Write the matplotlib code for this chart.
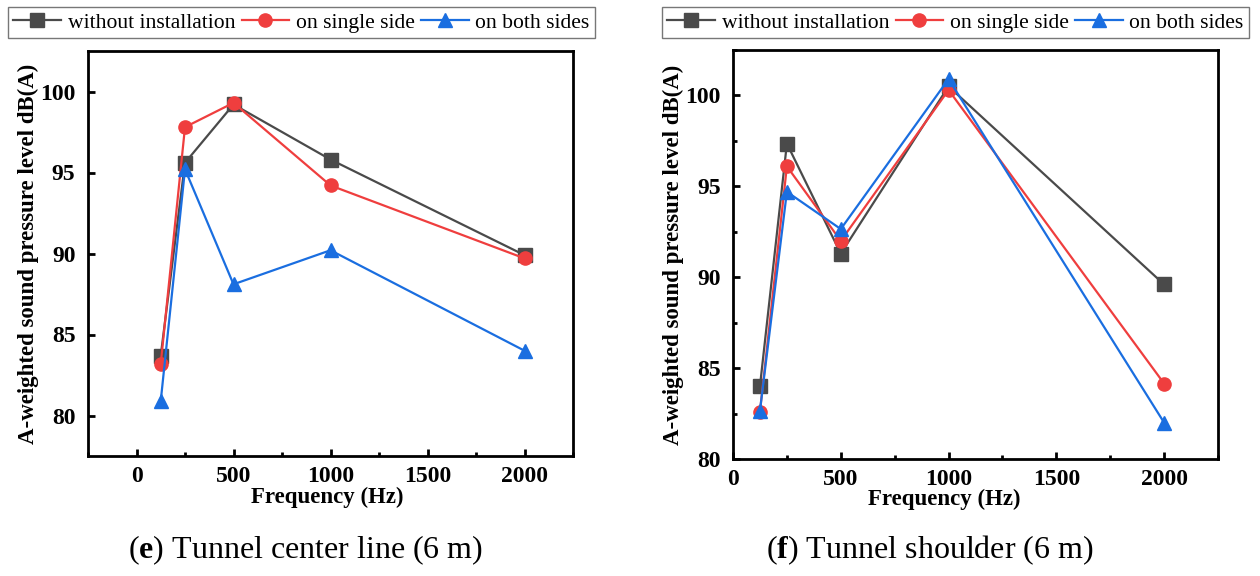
import numpy as np
import matplotlib
matplotlib.use('Agg')
import matplotlib.pyplot as plt
from matplotlib.ticker import MultipleLocator

## Frequencies (Hz)
freq = [125, 250, 500, 1000, 2000]

## (e) Tunnel center line (6 m)
e_without = [83.7, 95.6, 99.2, 95.8, 89.9]
e_single = [83.2, 97.8, 99.3, 94.2, 89.7]
e_both = [80.9, 95.2, 88.1, 90.2, 84.0]

## (f) Tunnel shoulder (6 m)
f_without = [84.0, 97.35, 91.3, 100.5, 89.6]
f_single = [82.6, 96.1, 92.0, 100.3, 84.15]
f_both = [82.65, 94.7, 92.65, 100.9, 82.0]

labels = ['without installation', 'on single side', 'on both sides']
colors = ['#4a4a4a', '#ef3e3e', '#1a6ee0']
markers = ['s', 'o', '^']

plt.rcParams['font.family'] = 'Liberation Serif'
plt.rcParams['mathtext.fontset'] = 'custom'
plt.rcParams['mathtext.rm'] = 'Liberation Serif'
plt.rcParams['mathtext.bf'] = 'Liberation Serif:bold'

W, H = 1260, 576
fig = plt.figure(figsize=(12.6, 5.76), dpi=100)

def px_axes(x0, y0, x1, y1):
    return fig.add_axes([x0/W, 1-y1/H, (x1-x0)/W, (y1-y0)/H])

def style(ax, ylim, xlim, yminor):
    ax.set_xlim(*xlim)
    ax.set_ylim(*ylim)
    for s in ax.spines.values():
        s.set_linewidth(2.0)
    ax.xaxis.set_major_locator(MultipleLocator(500))
    ax.xaxis.set_minor_locator(MultipleLocator(250))
    ax.yaxis.set_major_locator(MultipleLocator(5))
    if yminor:
        ax.yaxis.set_minor_locator(MultipleLocator(2.5))
    ax.tick_params(which='major', direction='in', length=5, width=2,
                   labelsize=17, top=False, right=False, pad=7)
    ax.tick_params(axis='y', which='major', pad=9)
    ax.tick_params(which='minor', direction='in', length=3, width=2,
                   top=False, right=False)
    for lab in ax.get_xticklabels() + ax.get_yticklabels():
        lab.set_fontweight('bold')
    ax.set_ylabel('A-weighted sound pressure level dB(A)', fontsize=16.5,
                  fontweight='bold')

def draw(ax, series):
    handles = []
    for ys, c, m, lab in zip(series, colors, markers, labels):
        h, = ax.plot(freq, ys, color=c, marker=m, markersize=9.5, lw=1.6,
                     label=lab)
        handles.append(h)
    return handles

## left panel
ax1 = px_axes(88, 51, 573, 456)
hs = draw(ax1, [e_without, e_single, e_both])
style(ax1, (77.5, 102.5), (-250, 2250), False)
ax1.yaxis.set_label_coords(-0.1, 0.5)
fig.text(327/W, 1-497/H, 'Frequency (Hz)', ha='center', va='center',
         fontsize=16.5, fontweight='bold')

## right panel
ax2 = px_axes(733, 50, 1218, 459)
draw(ax2, [f_without, f_single, f_both])
style(ax2, (80, 102.5), (0, 2250), True)
ax2.yaxis.set_label_coords(-0.1, 0.5)
fig.text(944/W, 1-499/H, 'Frequency (Hz)', ha='center', va='center',
         fontsize=16.5, fontweight='bold')

## legends on top of each panel
for x0 in [8, 662]:
    leg = fig.legend(hs, labels, loc='upper left', ncol=3,
                     bbox_to_anchor=(x0/W, 1-7/H), fontsize=15.6,
                     frameon=True, fancybox=False, borderpad=0.25,
                     handlelength=2.2, handletextpad=0.3, columnspacing=0.3,
                     borderaxespad=0)
    leg.get_frame().set_edgecolor('#555555')
    leg.get_frame().set_linewidth(1.0)

## captions
fig.text(306/W, 1-550/H, r'($\mathbf{e}$) Tunnel center line (6 m)',
         ha='center', va='center', fontsize=23)
fig.text(930/W, 1-550/H, r'($\mathbf{f}$) Tunnel shoulder (6 m)',
         ha='center', va='center', fontsize=23)

fig.savefig('out.png', dpi=100)
